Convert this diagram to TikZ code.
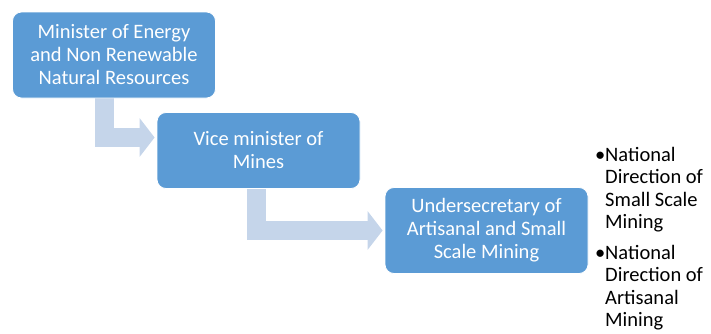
\documentclass[tikz,border=0pt]{standalone}
\usepackage{fontspec}
\setmainfont{Carlito}
\usetikzlibrary{arrows.meta,backgrounds}
\definecolor{boxblue}{HTML}{5B9BD5}
\definecolor{arrowblue}{HTML}{C5D5EA}
\begin{document}
\begin{tikzpicture}[x=1pt,y=1pt,
    level/.style={fill=boxblue, draw=white, line width=0.8pt, rounded corners=9pt,
        text=white, align=center, minimum width=203pt,
        font=\fontsize{20.5}{23}\selectfont},
    bentarrow/.style={draw=arrowblue, line width=19pt,
        -{Triangle[length=15pt,width=38pt]}, shorten >=2pt}]
    \useasboundingbox (0,0) rectangle (711,-333);
    % Draw the boxes
    \node[level, minimum height=86pt] (minister) at (114,-55)
        {Minister of Energy\\and Non Renewable\\Natural Resources};
    \node[level, minimum height=76pt] (vice) at (258.5,-150.5)
        {Vice minister of\\Mines};
    \node[level, minimum height=86pt] (under) at (486.5,-230.5)
        {Undersecretary of\\Artisanal and Small\\Scale Mining};
    % Draw the arrows behind the boxes
    \coordinate (start1) at ([xshift=-10pt]minister.south);
    \coordinate (end1) at ([yshift=13pt]vice.west);
    \coordinate (start2) at ([xshift=-2pt]vice.south);
    \begin{scope}[on background layer]
        \draw[bentarrow] (start1) |- (end1);
        \draw[bentarrow] (start2) |- (under.west);
    \end{scope}
    % Draw the list
    \node[anchor=north west, align=left, inner sep=0pt,
        font=\fontsize{20.5}{22.5}\selectfont] (list) at (605,-147)
        {\llap{\textbullet}National\\Direction of\\Small Scale\\Mining\\[8pt]
         \llap{\textbullet}National\\Direction of\\Artisanal\\Mining};
\end{tikzpicture}
\end{document}
